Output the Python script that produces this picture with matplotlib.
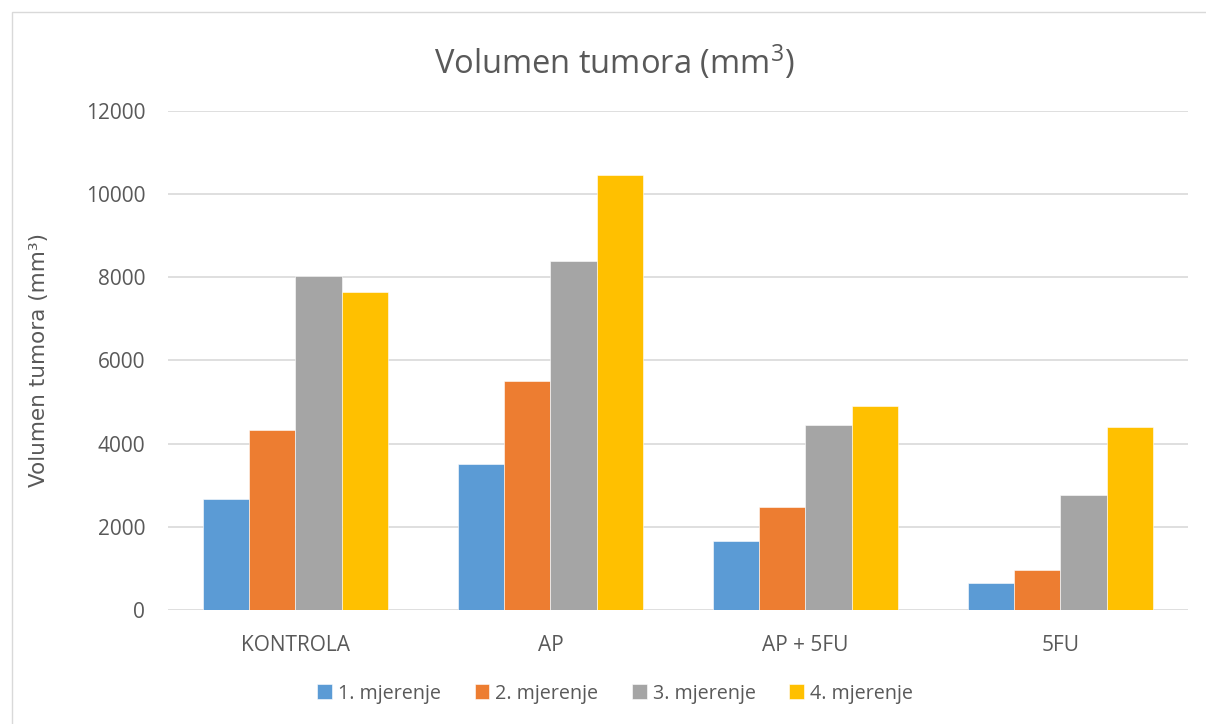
import matplotlib.pyplot as plt
import numpy as np
from matplotlib.patches import Rectangle

# data
categories = ['KONTROLA', 'AP', 'AP + 5FU', '5FU']
series_names = ['1. mjerenje', '2. mjerenje', '3. mjerenje', '4. mjerenje']
mjerenje_1 = [2680, 3520, 1650, 640]
mjerenje_2 = [4340, 5500, 2470, 950]
mjerenje_3 = [8040, 8400, 4440, 2760]
mjerenje_4 = [7640, 10460, 4910, 4390]
yticks = [0, 2000, 4000, 6000, 8000, 10000, 12000]

colors = ['#5B9BD5', '#ED7D31', '#A5A5A5', '#FFC000']
text_color = '#595959'

plt.rcParams['font.family'] = ['Open Sans', 'DejaVu Sans']
plt.rcParams['mathtext.fontset'] = 'custom'
plt.rcParams['mathtext.rm'] = 'Open Sans'

fig = plt.figure(figsize=(12.06, 7.24), dpi=100)
ax = fig.add_axes([0.1393, 0.1575, 0.8457, 0.6892])

# outer chart border
fig.patches.append(Rectangle((12 / 1206, -0.01), 1.02, 1 - 12 / 724 + 0.01,
                             transform=fig.transFigure, fill=False,
                             edgecolor='#D9D9D9', linewidth=1))

x = np.arange(len(categories))
width = 0.1816
all_series = [mjerenje_1, mjerenje_2, mjerenje_3, mjerenje_4]
for i, (vals, name) in enumerate(zip(all_series, series_names)):
    offs = (i - 1.5) * width
    ax.bar(x + offs, vals, width, color=colors[i], label=name,
           edgecolor='white', linewidth=0.4, zorder=3)

ax.set_xlim(-0.5, 3.5)
ax.set_ylim(0, 12000)
ax.set_yticks(yticks)
ax.set_xticks(x)
ax.set_xticklabels(categories)
ax.tick_params(axis='both', length=0, colors=text_color, labelsize=15)
ax.tick_params(axis='x', pad=18)
ax.tick_params(axis='y', pad=16.5)
ax.grid(axis='y', color='#D9D9D9', linewidth=1.2, zorder=0)
for s in ax.spines.values():
    s.set_visible(False)

ax.set_ylabel('Volumen tumora (mm³)', color=text_color, fontsize=15.5,
              family=['DejaVu Sans'], labelpad=26)

fig.text(0.509, 0.914, r'Volumen tumora (mm$\mathregular{^3}$)', ha='center',
         va='center', fontsize=23.5, color=text_color)

leg = fig.legend(loc='center', bbox_to_anchor=(0.51, 0.042), ncol=4,
                 frameon=False, fontsize=14.2, handlelength=0.75,
                 handleheight=0.75, handletextpad=0.3, columnspacing=1.7)
for t in leg.get_texts():
    t.set_color(text_color)

fig.savefig('out.png', dpi=100)
